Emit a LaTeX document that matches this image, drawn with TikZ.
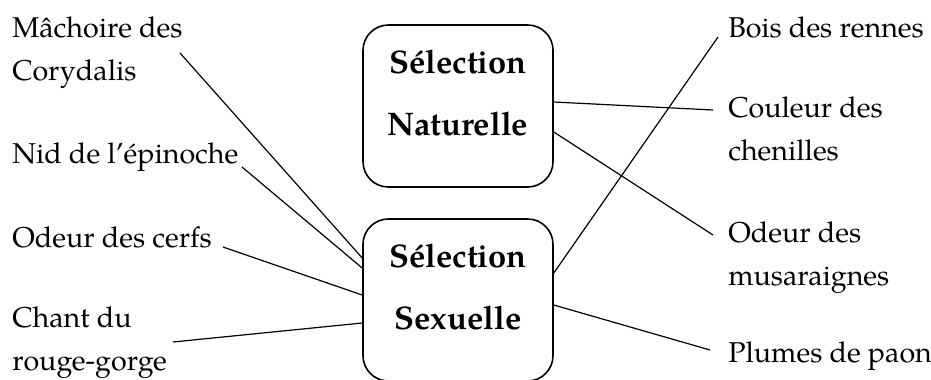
\documentclass[tikz,border=0pt]{standalone}
\usepackage{fontspec}
\setmainfont{TeX Gyre Pagella}
\usetikzlibrary{calc}

\begin{document}
\begin{tikzpicture}[x=0.75pt, y=-0.75pt,
    lbl/.style={anchor=base west, inner sep=0pt, align=left, font=\fontsize{21.5}{32}\selectfont},
    selbox/.style={draw, line width=1.2pt, rounded corners=19pt, minimum width=142.5pt, minimum height=121.5pt,
        align=center, text depth=20pt, font=\fontsize{24.5}{46}\selectfont\bfseries},
    link/.style={line width=0.9pt}]
    \useasboundingbox (0,0) rectangle (931,379);
    \node[selbox] (nat) at (458,106) {Sélection\\Naturelle};
    \node[selbox] (sex) at (458,300) {Sélection\\Sexuelle};
    \node[lbl] (mach) at (12,80) {Mâchoire des\\Corydalis};
    \node[lbl] (nid) at (12,163) {Nid de l’épinoche};
    \node[lbl] (cerfs) at (12,247) {Odeur des cerfs};
    \node[lbl] (chant) at (12,370) {Chant du\\rouge-gorge};
    \node[lbl] (bois) at (728,37) {Bois des rennes};
    \node[lbl] (coul) at (728,160) {Couleur des\\chenilles};
    \node[lbl] (musa) at (728,285) {Odeur des\\musaraignes};
    \node[lbl] (plum) at (728,362) {Plumes de paon};
    \draw[link] ($(mach.base west)+(168,-27)$) -- ($(sex.west)+(0,-42)$);
    \draw[link] ($(nid.base west)+(230,4)$) -- ($(sex.west)+(0,-32)$);
    \draw[link] ($(cerfs.base west)+(211,0)$) -- ($(sex.west)+(0,-5)$);
    \draw[link] ($(chant.base west)+(161,-28)$) -- ($(sex.west)+(0,23)$);
    \draw[link] ($(nat.east)+(0,-4)$) -- ($(coul.base west)+(-15,-50)$);
    \draw[link] ($(nat.east)+(0,26)$) -- ($(musa.base west)+(-15,-50)$);
    \draw[link] ($(sex.east)+(0,-27)$) -- ($(bois.base west)+(-10,0)$);
    \draw[link] ($(sex.east)+(0,5)$) -- ($(plum.base west)+(-18,-12)$);
\end{tikzpicture}
\end{document}
